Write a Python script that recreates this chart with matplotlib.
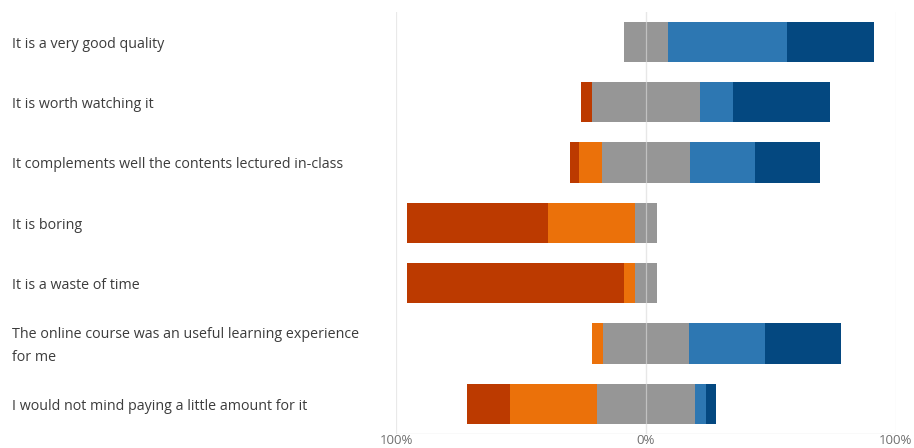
import matplotlib.pyplot as plt
import matplotlib.transforms as mtransforms

plt.rcParams['font.family'] = ['Open Sans', 'DejaVu Sans']

statements = [
    "It is a very good quality",
    "It is worth watching it",
    "It complements well the contents lectured in-class",
    "It is boring",
    "It is a waste of time",
    "The online course was an useful learning experience\nfor me",
    "I would not mind paying a little amount for it",
]

# answer shares in percent, one list per answer level
strongly_disagree = [0.0, 4.3, 3.4, 56.5, 87.0, 0.0, 17.4]
disagree = [0.0, 0.0, 9.3, 34.8, 4.3, 4.3, 34.8]
neutral = [17.4, 43.5, 35.3, 8.7, 8.7, 34.8, 39.1]
agree = [47.8, 13.0, 26.0, 0.0, 0.0, 30.4, 4.3]
strongly_agree = [34.8, 39.1, 26.0, 0.0, 0.0, 30.4, 4.3]

levels = [strongly_disagree, disagree, neutral, agree, strongly_agree]
colors = ["#bc3a00", "#eb710a", "#969696", "#2d77b2", "#044880"]

tick_values = [-100, 0, 100]
tick_labels = ["100%", "0%", "100%"]

fig = plt.figure(figsize=(9.14, 4.48), dpi=100)
ax = fig.add_axes([0.4338, 0.0312, 0.546, 0.943])

for i in range(len(statements)):
    # centre the neutral share on zero
    left = -(strongly_disagree[i] + disagree[i] + neutral[i] / 2)
    for values, c in zip(levels, colors):
        w = values[i]
        if w > 0:
            ax.barh(i, w, left=left, height=0.665, color=c, zorder=2)
        left += w

ax.set_xlim(-100, 100)
ax.set_ylim(len(statements) - 0.5, -0.5)

for x in tick_values:
    ax.axvline(x, color="#e9e9e9", lw=0.9, zorder=1)
ax.axvline(0, color="#e6e6e6", lw=0.9, alpha=0.55, zorder=3)
ax.axhline(len(statements) - 0.5, color="#e3e3e3", lw=1.0, zorder=1)

ax.set_xticks(tick_values)
ax.set_xticklabels(tick_labels, color="#707070", fontsize=9.5)
ax.tick_params(axis="x", length=0, pad=0)
ax.set_yticks([])
for s in ax.spines.values():
    s.set_visible(False)

# statement labels sit at the far left of the figure, level with their bars
trans = mtransforms.blended_transform_factory(fig.transFigure, ax.transData)
trans = trans + mtransforms.ScaledTranslation(0, -2.5 / 100, fig.dpi_scale_trans)
for i, label in enumerate(statements):
    fig.text(0.0135, i, label, transform=trans, ha="left", va="center",
             fontsize=10.3, color="#3c3c3c", linespacing=1.75)

fig.savefig("out.png", dpi=100)
